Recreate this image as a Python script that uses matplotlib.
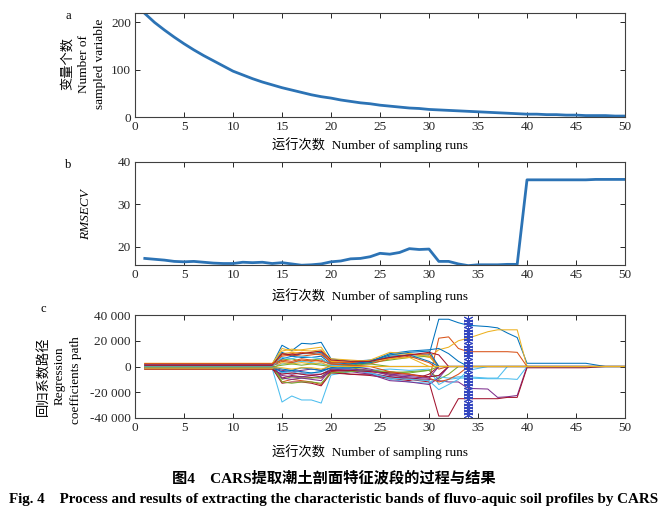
import numpy as np
import matplotlib
matplotlib.use("Agg")
import matplotlib.pyplot as plt

plt.rcParams['font.family'] = ['Liberation Serif', 'Noto Sans CJK SC']
plt.rcParams['axes.unicode_minus'] = False

# ---- data ----
runs = list(range(1, 51))

n_vars = [219, 200, 184, 169, 155, 142, 130, 119, 108, 97,
          89, 81, 74, 68, 62, 57, 52, 47, 43, 40,
          36, 33, 30, 28, 25, 23, 21, 19, 18, 16,
          15, 14, 13, 12, 11, 10, 9, 8, 7, 6,
          6, 5, 5, 4, 4, 3, 3, 3, 2, 2]

rmsecv = [17.3, 17.1, 16.9, 16.6, 16.5, 16.6, 16.4, 16.2, 16.1, 16.1,
          16.4, 16.3, 16.4, 16.1, 16.3, 16.0, 15.7, 15.8, 16.0, 16.5,
          16.7, 17.2, 17.3, 17.7, 18.5, 18.3, 18.7, 19.6, 19.4, 19.5,
          16.6, 16.6, 16.0, 15.6, 15.8, 15.8, 15.8, 15.9, 15.9, 35.8,
          35.8, 35.8, 35.8, 35.8, 35.8, 35.8, 35.9, 35.9, 35.9, 35.9]

# regression coefficient paths (thousands), read at these runs
coef_runs = [1, 14, 15, 16, 17, 18, 19, 20, 22, 24, 26, 28, 30,
             31, 32, 33, 34, 36, 37, 38, 39, 40, 46, 48, 50]
coef_paths = [
    [1.5, 1.5, 16.5, 12.3, 18, 17.5, 18.8, 6, 4, 5, 7, 9, 9, 36.7, 36.7, 34, 32, 31, 30, 26, 22.5, 2.5, 2.5, 0, 0],
    [-1, -1, -12, -10, -11, -12, -14, -4, -3, -4, -6, -9, -11, 22, 23, 14, 11.5, 11.5, 11.5, 11.5, 11, 0, 0, 0, 0],
    [2.5, 2.5, 12, 13.5, 12.5, 12, 13, 5, 4, 4, 9, 10, 7, 13, 15, 20, 22, 27, 28.5, 28.5, 28.5, 0, 0, 0, 0],
    [0.5, 0.5, -5, -6, -5, -6, -6, -2, -3, -5, -8, -9, -10, -11, -12, -12, -17, -17.5, -24, -23.5, -22.5, 0, 0, 0, 0],
    [1, 1, 5, 6, 4, 5, 6, 1, 2, 3, 5, 7, 8, 0, 0, 0, 0, 0, 0, 0, 0, 0, 0, 0, 0],
    [-1.5, -1.5, -27.6, -22.9, -26, -26, -28.4, -6.6, -4, -3, -2, -3, -2, -14, -10, -9, -9, -9.5, -9.5, -9.5, -10, 0, 0, 0, 0],
    [-2, -2, -9, -7, -8, -8.5, -9, -4, -6, -6, -8, -10, -12, -38.5, -38.5, -25, -25, -25, -25, -24, -24, -1, -1, 0, 0],
    [0.8, 0.8, 11, 8, 10, 10, 11, 3, 2, 4, 10, 12, 13, 14, 10, 4, 0, 0, 0, 0, 0, 0, 0, 0, 0],
    [-0.5, -0.5, 9, 10, 11, 10, 9, 4, 3, 2, 6, 8, 3, -2, 0, 0, 0, 0, 0, 0, 0, 0, 0, 0, 0],
    [1.8, 1.8, 14, 12, 13, 14, 15, 4, 3, 5, 11, 10, 8, 0, 0, 0, 0, 0, 0, 0, 0, 0, 0, 0, 0],
    [-0.8, -0.8, -3, -4, -3, -2, -3, 1, 0, -2, -6, -7, -8, -7, 0, 0, 0, 0, 0, 0, 0, 0, 0, 0, 0],
    [0.3, 0.3, -10, -8, -9, -9, -8, -2, -1, -3, -5, -4, -3, -10, -6, 0, 0, 0, 0, 0, 0, 0, 0, 0, 0],
    [0, 0, -5, -4, -6, -5, -4, -1, -2, -5, -10, -12, -13, -8, -9, -8, -8, -9, -9, 0, 0, 0, 0, 0, 0],
    [-1.2, -1.2, -13, -12, -12, -13, -15, -5, -6, -7, -9, -11, -6, 0, 0, 0, 0, 0, 0, 0, 0, 0, 0, 0, 0],
    [1, 1, 6, 8, 7, 7, 8, 2, 1, 3, 8, 9, 4, 0, 0, 0, 0, 0, 0, 0, 0, 0, 0, 0, 0],
    [2, 2, 8, 9, 8, 9, 10, 3, 3, 4, 7, 9, 10, 0, 0, 0, 0, 0, 0, 0, 0, 0, 0, 0, 0],
    [-0.5, -0.5, 10, 11, 10, 11, 12, 6, 5, 4, 6, 7, 0, 0, 0, 0, 0, 0, 0, 0, 0, 0, 0, 0, 0],
    [-1.5, -1.5, -7, -8, -8, -7, -8, -3, -4, -6, -11, -12, -14, -9, 0, 0, 0, 0, 0, 0, 0, 0, 0, 0, 0],
    [0.2, 0.2, -12, -13, -12, -12, -13, -5, -4, -3, -4, -5, -3, 0, 0, 0, 0, 0, 0, 0, 0, 0, 0, 0, 0],
    [1.2, 1.2, 2, 3, 4, 3, 2, 1, -2, -5, -9, -10, -11, -18, -14, -10, -3, 0, 0, 0, 0, 0, 0, 0, 0],
    [-2.2, -2.2, -6, -5, -6, -7, -6, -3, -3, -4, -5, -6, -8, -7, 0, 0, 0, 0, 0, 0, 0, 0, 0, 0, 0],
    [-0.2, -0.2, -2, -3, -1, -2, -3, -1, 2, 4, 9, 11, 12, 0, 0, 0, 0, 0, 0, 0, 0, 0, 0, 0, 0],
    [0.6, 0.6, 4, 3, 5, 4, 5, 2, 1, 0, -4, -6, -9, -12, -10, -6, 0, 0, 0, 0, 0, 0, 0, 0, 0],
    [-1.8, -1.8, 3, 2, 3, 2, 3, 0, 0, 0, 0, 0, 0, 0, 0, 0, 0, 0, 0, 0, 0, 0, 0, 0, 0],
    [1.4, 1.4, -9, -10, -9, -10, -11, -2, -2, -3, -7, -8, -9, 0, 0, 0, 0, 0, 0, 0, 0, 0, 0, 0, 0],
    [-0.3, -0.3, 1, 2, 1, 2, 1, 0, 1, 2, 0, 0, 0, 0, 0, 0, 0, 0, 0, 0, 0, 0, 0, 0, 0],
    [0.4, 0.4, 7, 6, 8, 7, 6, 1, 0, 0, 0, 0, 0, 0, 0, 0, 0, 0, 0, 0, 0, 0, 0, 0, 0],
    [0.9, 0.9, 10, 9, 10, 11, 12, 5, 4, 4, 7, 9, 11, 9, 0, 0, 0, 0, 0, 0, 0, 0, 0, 0, 0],
    [-0.9, -0.9, -4, -3, -4, -5, -4, -1, -1, 0, 0, 0, 0, 0, 0, 0, 0, 0, 0, 0, 0, 0, 0, 0, 0],
    [2.2, 2.2, 5, 4, 6, 5, 4, 2, 1, 0, 0, 0, 0, 0, 0, 0, 0, 0, 0, 0, 0, 0, 0, 0, 0],
    [-1.1, -1.1, -1, -2, -1, -1, -2, 0, 0, 0, 0, 0, 0, 0, 0, 0, 0, 0, 0, 0, 0, 0, 0, 0, 0],
]
optimal_run = 34

x_ticks = [0, 5, 10, 15, 20, 25, 30, 35, 40, 45, 50]
a_yticks = [0, 100, 200]
b_yticks = [20, 30, 40]
c_yticks = [-40000, -20000, 0, 20000, 40000]
c_yticklabels = ['-40 000', '-20 000', '0', '20 000', '40 000']

xlabel_txt = '运行次数  Number of sampling runs'
caption_cn = '图4　CARS提取潮土剖面特征波段的过程与结果'
caption_en = 'Fig. 4    Process and results of extracting the characteristic bands of fluvo-aquic soil profiles by CARS'

# ---- style ----
W, H = 666, 517
matlab_colors = ['#0072BD', '#D95319', '#EDB120', '#7E2F8E',
                 '#77AC30', '#4DBEEE', '#A2142F']
line_blue = '#2C73B5'
fs = 9.5


def box(t, b):
    return [135 / W, 1 - b / H, (625 - 135) / W, (b - t) / H]


def fx(px):
    return px / W


def fy(py):
    return 1 - py / H


fig = plt.figure(figsize=(W / 100, H / 100), dpi=100)


def style_axes(ax):
    ax.set_xlim(0, 50)
    ax.set_xticks(x_ticks)
    ax.tick_params(direction='in', top=True, right=True, length=3.5,
                   width=0.7, labelsize=fs, colors='#262626', pad=3)
    for s in ax.spines.values():
        s.set_linewidth(0.8)
        s.set_color('#404040')


# a
ax_a = fig.add_axes(box(13, 117))
ax_a.plot(runs, n_vars, color=line_blue, lw=2.0)
style_axes(ax_a)
ax_a.set_ylim(0, 220)
ax_a.set_yticks(a_yticks)

# b
ax_b = fig.add_axes(box(162, 265))
ax_b.plot(runs, rmsecv, color=line_blue, lw=2.0)
style_axes(ax_b)
ax_b.set_ylim(15.75, 40)
ax_b.set_yticks(b_yticks)

# c
ax_c = fig.add_axes(box(315, 418))
for i, path in enumerate(coef_paths):
    ax_c.plot(coef_runs, np.array(path) * 1000,
              color=matlab_colors[i % 7], lw=0.75)
star_y = np.arange(-38000, 38001, 2500)
ax_c.plot([optimal_run] * len(star_y), star_y, ls='none',
          marker=(6, 2, 0), ms=7, mew=0.7, color='#3346C0')
style_axes(ax_c)
ax_c.set_ylim(-40000, 40000)
ax_c.set_yticks(c_yticks)
ax_c.set_yticklabels(c_yticklabels)

# x labels
for yy in (145, 296, 452):
    fig.text(fx(370), fy(yy), xlabel_txt, ha='center', va='center',
             fontsize=fs)

# panel letters
fig.text(fx(68), fy(16), 'a', ha='center', va='center', fontsize=9)
fig.text(fx(68), fy(165), 'b', ha='center', va='center', fontsize=9)
fig.text(fx(43), fy(309), 'c', ha='center', va='center', fontsize=9)

# y labels
fig.text(fx(68), fy(64), '变量个数', rotation=90, ha='center', va='center', fontsize=fs)
fig.text(fx(84), fy(64), 'Number of', rotation=90, ha='center', va='center', fontsize=fs)
fig.text(fx(100), fy(64), 'sampled variable', rotation=90, ha='center', va='center', fontsize=fs)
fig.text(fx(86), fy(215), 'RMSECV', rotation=90, ha='center', va='center',
         fontsize=fs, style='italic')
fig.text(fx(44), fy(376), '回归系数路径', rotation=90, ha='center', va='center', fontsize=fs)
fig.text(fx(60), fy(376), 'Regression', rotation=90, ha='center', va='center', fontsize=fs)
fig.text(fx(76), fy(380), 'coefficients path', rotation=90, ha='center', va='center', fontsize=fs)

# caption
fig.text(fx(334), fy(478), caption_cn, ha='center', va='center',
         fontsize=11, fontweight='bold')
fig.text(fx(334), fy(500), caption_en, ha='center', va='center',
         fontsize=10.8, fontweight='bold')

fig.savefig('out.png', dpi=100)
